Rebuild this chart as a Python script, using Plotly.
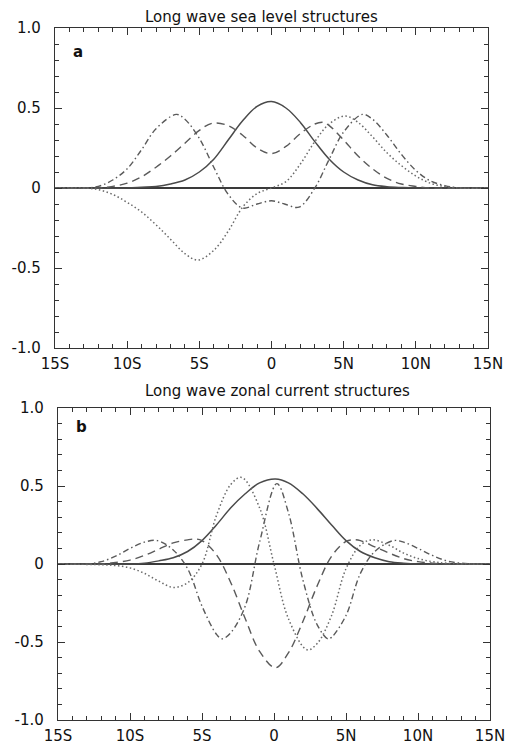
import plotly.graph_objects as go

# ---- Panel a: sea level structures ----
a_solid_lat = [-15, -10, -9, -8, -7, -6, -5, -4, -3, -2, -1, 0, 1, 2, 3, 4, 5, 6, 7, 8, 9, 10, 15]
a_solid = [0, 0, 0.005, 0.01, 0.025, 0.05, 0.1, 0.18, 0.3, 0.42, 0.51, 0.54, 0.5, 0.41, 0.29, 0.18, 0.1, 0.05, 0.02, 0.008, 0.003, 0, 0]

a_dash_lat = [-15, -12, -11, -10, -9, -8, -7, -6, -5, -4.1, -3, -2, -1, 0, 1, 2, 3, 3.6, 4, 5, 6, 7, 8, 9, 10, 11, 15]
a_dash = [0, 0, 0.01, 0.03, 0.07, 0.13, 0.2, 0.28, 0.36, 0.405, 0.39, 0.33, 0.25, 0.215, 0.26, 0.34, 0.40, 0.41, 0.39, 0.3, 0.2, 0.12, 0.06, 0.025, 0.01, 0, 0]

a_dashdot_lat = [-15, -13, -12, -11, -10, -9, -8, -6.6, -6, -5, -4, -3, -2.0, -1.0, 0, 0.9, 1.9, 3.0, 4, 5, 6.3, 7, 8, 9, 10, 11, 12, 13, 15]
a_dashdot = [0, 0, 0.01, 0.05, 0.12, 0.24, 0.37, 0.46, 0.43, 0.31, 0.13, -0.04, -0.125, -0.1, -0.08, -0.1, -0.12, 0, 0.18, 0.35, 0.46, 0.43, 0.33, 0.21, 0.11, 0.045, 0.015, 0, 0]

a_dot_lat = [-15, -13, -12, -11, -10, -9, -8, -7, -6, -5.1, -4, -3, -2, -1, 0, 1, 2, 3, 4, 5.1, 6, 7, 8, 9, 10, 11, 12, 13, 15]
a_dot = [0, 0, -0.01, -0.04, -0.09, -0.15, -0.23, -0.32, -0.41, -0.45, -0.39, -0.27, -0.12, -0.035, 0, 0.04, 0.15, 0.29, 0.4, 0.45, 0.41, 0.32, 0.22, 0.14, 0.075, 0.03, 0.01, 0, 0]

# ---- Panel b: zonal current structures ----
b_solid_lat = [-15, -10, -9, -8, -7, -6, -5, -4, -3, -2, -1, 0.1, 1, 2, 3, 4, 5, 6, 7, 8, 9, 10, 15]
b_solid = [0, 0, 0.005, 0.02, 0.04, 0.08, 0.15, 0.25, 0.36, 0.45, 0.52, 0.545, 0.52, 0.45, 0.355, 0.25, 0.15, 0.08, 0.04, 0.015, 0.005, 0, 0]

b_dash_lat = [-15, -12, -11, -10, -9, -8, -7, -6, -5.4, -5, -4, -3, -2, -1, 0.1, 1, 2, 3, 4, 5, 5.5, 6, 7, 8, 9, 10, 11, 12, 15]
b_dash = [0, 0, 0.01, 0.025, 0.055, 0.095, 0.135, 0.155, 0.16, 0.15, 0.06, -0.12, -0.35, -0.56, -0.665, -0.57, -0.37, -0.14, 0.05, 0.145, 0.155, 0.15, 0.11, 0.07, 0.035, 0.015, 0.005, 0, 0]

b_dashdot_lat = [-15, -13, -12, -11, -10, -9, -8.1, -7, -6, -5, -4, -3.6, -3, -2, -1, 0.2, 1, 2, 3, 3.75, 4, 5, 6, 7, 8.3, 9, 10, 11, 12, 13, 15]
b_dashdot = [0, 0, 0.015, 0.05, 0.1, 0.14, 0.15, 0.09, -0.03, -0.27, -0.45, -0.48, -0.44, -0.27, 0.14, 0.515, 0.33, -0.1, -0.39, -0.48, -0.47, -0.33, -0.06, 0.08, 0.15, 0.14, 0.1, 0.055, 0.02, 0.005, 0]

b_dot_lat = [-15, -12, -11, -10, -9, -8, -7, -6, -5, -4, -3, -2.25, -1, 0, 1, 2.3, 3, 4, 5, 6, 6.8, 8, 9, 10, 11, 12, 15]
b_dot = [0, -0.005, -0.01, -0.025, -0.06, -0.11, -0.15, -0.12, 0.0, 0.31, 0.51, 0.555, 0.36, 0.0, -0.35, -0.55, -0.51, -0.33, -0.03, 0.12, 0.155, 0.12, 0.07, 0.035, 0.015, 0.005, 0]

x_tickvals = [-15, -10, -5, 0, 5, 10, 15]
x_ticktext = ["15S", "10S", "5S", "0", "5N", "10N", "15N"]
y_tickvals = [-1.0, -0.5, 0, 0.5, 1.0]
y_ticktext = ["-1.0", "-0.5", "0", "0.5", "1.0"]
titles = ["Long wave sea level structures", "Long wave zonal current structures"]
panel_labels = ["a", "b"]

FONT = "DejaVu Sans, Verdana, sans-serif"
LINE_COL = "#5a5a5a"

styles = [
    ("solid", "#4a4a4a", 1.5),
    ("8px,5px", LINE_COL, 1.4),
    ("6px,3px,1.5px,3px", LINE_COL, 1.4),
    ("1.5px,2.5px", "#6a6a6a", 1.5),
]

fig = go.Figure()

panels = [
    ([a_solid_lat, a_dash_lat, a_dashdot_lat, a_dot_lat], [a_solid, a_dash, a_dashdot, a_dot], "x", "y"),
    ([b_solid_lat, b_dash_lat, b_dashdot_lat, b_dot_lat], [b_solid, b_dash, b_dashdot, b_dot], "x2", "y2"),
]

for lats, vals, xa, ya in panels:
    for (dash, col, w), lat, v in zip(styles, lats, vals):
        fig.add_trace(go.Scatter(
            x=lat, y=v, mode="lines", xaxis=xa, yaxis=ya,
            line=dict(color=col, width=w, dash=dash, shape="spline", smoothing=1.0),
            showlegend=False, hoverinfo="skip",
        ))

W, H = 509, 752
xdom_a = [55 / W, 488 / W]
xdom_b = [58 / W, 490 / W]
ydom_a = [1 - 348 / H, 1 - 28 / H]
ydom_b = [1 - 720 / H, 1 - 408 / H]

def xaxis(dom, anchor):
    return dict(
        domain=dom, anchor=anchor, range=[-15, 15], automargin=False,
        tickvals=x_tickvals, ticktext=x_ticktext,
        ticks="inside", ticklen=7, tickwidth=1, tickcolor="#333",
        minor=dict(dtick=1, tick0=0, ticks="inside", ticklen=4, tickcolor="#333"),
        showline=True, linecolor="#333", linewidth=1.2, mirror="allticks",
        showgrid=False, zeroline=False,
        tickfont=dict(family=FONT, size=15, color="#111"),
        ticklabelstandoff=2, ticklabeloverflow="allow",
    )

def yaxis(dom, anchor):
    return dict(
        domain=dom, anchor=anchor, range=[-1, 1], automargin=False,
        tickvals=y_tickvals, ticktext=y_ticktext,
        ticks="inside", ticklen=7, tickwidth=1, tickcolor="#333",
        minor=dict(dtick=0.1, tick0=0, ticks="inside", ticklen=4, tickcolor="#333"),
        showline=True, linecolor="#333", linewidth=1.2, mirror="allticks",
        showgrid=False, zeroline=True, zerolinecolor="#3a3a3a", zerolinewidth=1.6,
        tickfont=dict(family=FONT, size=15, color="#111"),
        ticklabelstandoff=10, ticklabeloverflow="allow",
    )

fig.update_layout(
    width=W, height=H,
    margin=dict(l=0, r=0, t=0, b=0, autoexpand=False),
    paper_bgcolor="white", plot_bgcolor="white",
    xaxis=xaxis(xdom_a, "y"),
    yaxis=yaxis(ydom_a, "x"),
    xaxis2=xaxis(xdom_b, "y2"),
    yaxis2=yaxis(ydom_b, "x2"),
    font=dict(family=FONT, color="#111"),
    hovermode=False,
)

title_y = [1 - 17 / H, 1 - 391 / H]
label_y = [1 - 52 / H, 1 - 427 / H]
label_x = [71 / W, 74 / W]
for t, ty, lab, ly, lx in zip(titles, title_y, panel_labels, label_y, label_x):
    fig.add_annotation(text=t, x=143 / W, y=ty, xref="paper", yref="paper",
                       showarrow=False, font=dict(family=FONT, size=15, color="#111"),
                       xanchor="left", yanchor="middle")
    fig.add_annotation(text="<b>" + lab + "</b>", x=lx, y=ly, xref="paper", yref="paper",
                       showarrow=False, font=dict(family=FONT, size=15, color="#111"),
                       xanchor="left", yanchor="middle")

fig.write_html(
    "out.html",
    config={"displayModeBar": False, "staticPlot": True},
    post_script="document.body.style.margin='0';document.body.style.overflow='hidden';",
)
